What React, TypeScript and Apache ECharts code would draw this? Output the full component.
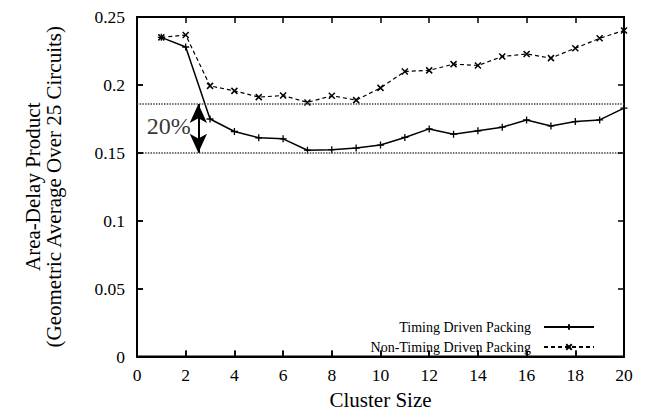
import React, { useEffect, useRef } from "react";
import * as echarts from "echarts";

const clusterSizes = [1, 2, 3, 4, 5, 6, 7, 8, 9, 10, 11, 12, 13, 14, 15, 16, 17, 18, 19, 20];
const timingDriven = [0.235, 0.2279, 0.1749, 0.1657, 0.1611, 0.1603, 0.1519, 0.1523, 0.1535, 0.1557,
  0.1613, 0.1676, 0.1637, 0.1662, 0.1689, 0.1742, 0.1698, 0.173, 0.1742, 0.1829];
const nonTimingDriven = [0.235, 0.2367, 0.1993, 0.1956, 0.191, 0.1922, 0.1871, 0.192, 0.1888, 0.1978,
  0.2099, 0.2107, 0.2153, 0.2143, 0.2209, 0.2228, 0.2197, 0.227, 0.2343, 0.2401];
const referenceLevels = [0.1859, 0.1501];
const arrowX = 2.52;
const annotationText = "20%";
const annotationPos = [1.3, 0.1696];
const seriesNames = ["Timing Driven Packing", "Non-Timing Driven Packing"];
const xTitle = "Cluster Size";
const yTitle = "Area-Delay Product\n(Geometric Average Over 25 Circuits)";
const xRange = [0, 20];
const yRange = [0, 0.25];
const xTicks = [0, 2, 4, 6, 8, 10, 12, 14, 16, 18, 20];
const yTicks = [0, 0.05, 0.1, 0.15, 0.2, 0.25];

const FONT = "'Liberation Serif', 'Times New Roman', serif";
const PLUS = "path://M0,5L10,5M5,0L5,10";
const CROSS = "path://M0,0L10,10M10,0L0,10";

export default function App() {
  const ref = useRef<HTMLDivElement>(null);
  useEffect(() => {
    if (!ref.current) return;
    const chart = echarts.init(ref.current, null, { renderer: "svg" });
    const mkLine = () => ({ show: true, lineStyle: { color: "#000", width: 2 } });
    const mkTick = () => ({ show: true, inside: true, length: 6, lineStyle: { color: "#000", width: 1.5 } });
    const label = { color: "#000", fontFamily: FONT, fontSize: 17.5 };
    const legendBase = {
      orient: "horizontal",
      align: "right",
      right: 51,
      itemWidth: 50,
      itemHeight: 7,
      formatter: (n: string) => `{a|${n}}`,
      textStyle: {
        color: "#000",
        fontFamily: FONT,
        fontSize: 14,
        rich: { a: { color: "#000", fontFamily: FONT, fontSize: 14, lineHeight: 16, padding: [0, 8, 0, 0] } },
      },
    };
    // tick lengths of about 6px expressed in axis units (frame drawn with markers)
    const xLen = ((xRange[1] - xRange[0]) * 6) / 487;
    const yLen = ((yRange[1] - yRange[0]) * 6) / 342.5;
    const tickSegments: any[] = [];
    xTicks.forEach((t) => {
      tickSegments.push([{ coord: [t, yRange[0]] }, { coord: [t, yRange[0] + yLen] }]);
      tickSegments.push([{ coord: [t, yRange[1]] }, { coord: [t, yRange[1] - yLen] }]);
    });
    yTicks.forEach((v) => {
      tickSegments.push([{ coord: [xRange[0], v] }, { coord: [xRange[0] + xLen, v] }]);
      tickSegments.push([{ coord: [xRange[1], v] }, { coord: [xRange[1] - xLen, v] }]);
    });
    chart.setOption({
      animation: false,
      grid: { left: 129, top: 6, right: 27, bottom: 60.5 },
      legend: [
        { ...legendBase, top: 307, data: [seriesNames[0]] },
        { ...legendBase, top: 327, data: [seriesNames[1]] },
      ],
      xAxis: [
        {
          type: "value",
          min: xRange[0],
          max: xRange[1],
          interval: 2,
          axisLine: mkLine(),
          axisTick: mkTick(),
          splitLine: { show: false },
          axisLabel: { ...label, margin: 9 },
          name: xTitle,
          nameLocation: "middle",
          nameGap: 33,
          nameTextStyle: { color: "#000", fontFamily: FONT, fontSize: 21 },
        },
      ],
      yAxis: [
        {
          type: "value",
          min: yRange[0],
          max: yRange[1],
          interval: 0.05,
          axisLine: mkLine(),
          axisTick: mkTick(),
          splitLine: { show: false },
          axisLabel: { ...label, margin: 12 },
          name: yTitle,
          nameLocation: "middle",
          nameRotate: 90,
          nameGap: 73,
          nameTextStyle: { color: "#000", fontFamily: FONT, fontSize: 21, lineHeight: 21 },
        },
      ],
      series: [
        {
          name: seriesNames[0],
          type: "line",
          data: clusterSizes.map((x, i) => [x, timingDriven[i]]),
          symbol: PLUS,
          symbolSize: 7,
          showSymbol: true,
          lineStyle: { color: "#000", width: 1.5, type: "solid" },
          itemStyle: { color: "#000", borderColor: "#000", borderWidth: 1.3 },
          markLine: {
            silent: true,
            precision: 5,
            symbol: ["none", "none"],
            label: { show: false },
            lineStyle: { color: "#444", width: 1.6, type: [1.5, 1.2] },
            data: referenceLevels.map((v) => ({ yAxis: v })),
          },
          z: 3,
        },
        {
          name: seriesNames[1],
          type: "line",
          data: clusterSizes.map((x, i) => [x, nonTimingDriven[i]]),
          symbol: CROSS,
          symbolSize: 6,
          showSymbol: true,
          lineStyle: { color: "#000", width: 1.2, type: [4, 3] },
          itemStyle: { color: "#000", borderColor: "#000", borderWidth: 1.5 },
          markLine: {
            silent: true,
            precision: 5,
            symbol: ["arrow", "arrow"],
            symbolSize: [13, 19],
            label: { show: false },
            lineStyle: { color: "#000", width: 2, type: "solid" },
            data: [
              [
                { coord: [arrowX, referenceLevels[0]] },
                { coord: [arrowX, referenceLevels[1]] },
              ],
            ],
          },
          z: 3,
        },
        {
          name: "annotation",
          type: "scatter",
          silent: true,
          symbol: "circle",
          symbolSize: 1,
          itemStyle: { color: "rgba(0,0,0,0)" },
          label: {
            show: true,
            position: "inside",
            formatter: annotationText,
            color: "#000",
            fontFamily: FONT,
            fontSize: 24,
          },
          data: [annotationPos],
          z: 4,
        },
        {
          name: "frame",
          type: "scatter",
          silent: true,
          clip: false,
          symbol: "circle",
          symbolSize: 1,
          itemStyle: { color: "rgba(0,0,0,0)" },
          data: [[xRange[0], yRange[0]]],
          markArea: {
            silent: true,
            itemStyle: { color: "rgba(0,0,0,0)", borderColor: "#000", borderWidth: 2 },
            label: { show: false },
            data: [[{ coord: [xRange[0], yRange[0]] }, { coord: [xRange[1], yRange[1]] }]],
          },
          markLine: {
            silent: true,
            precision: 6,
            symbol: ["none", "none"],
            label: { show: false },
            lineStyle: { color: "#000", width: 1.5, type: "solid" },
            data: tickSegments,
          },
          z: 2,
        },
      ],
    });
    return () => chart.dispose();
  }, []);
  return <div ref={ref} style={{ width: 643, height: 409 }} />;
}
